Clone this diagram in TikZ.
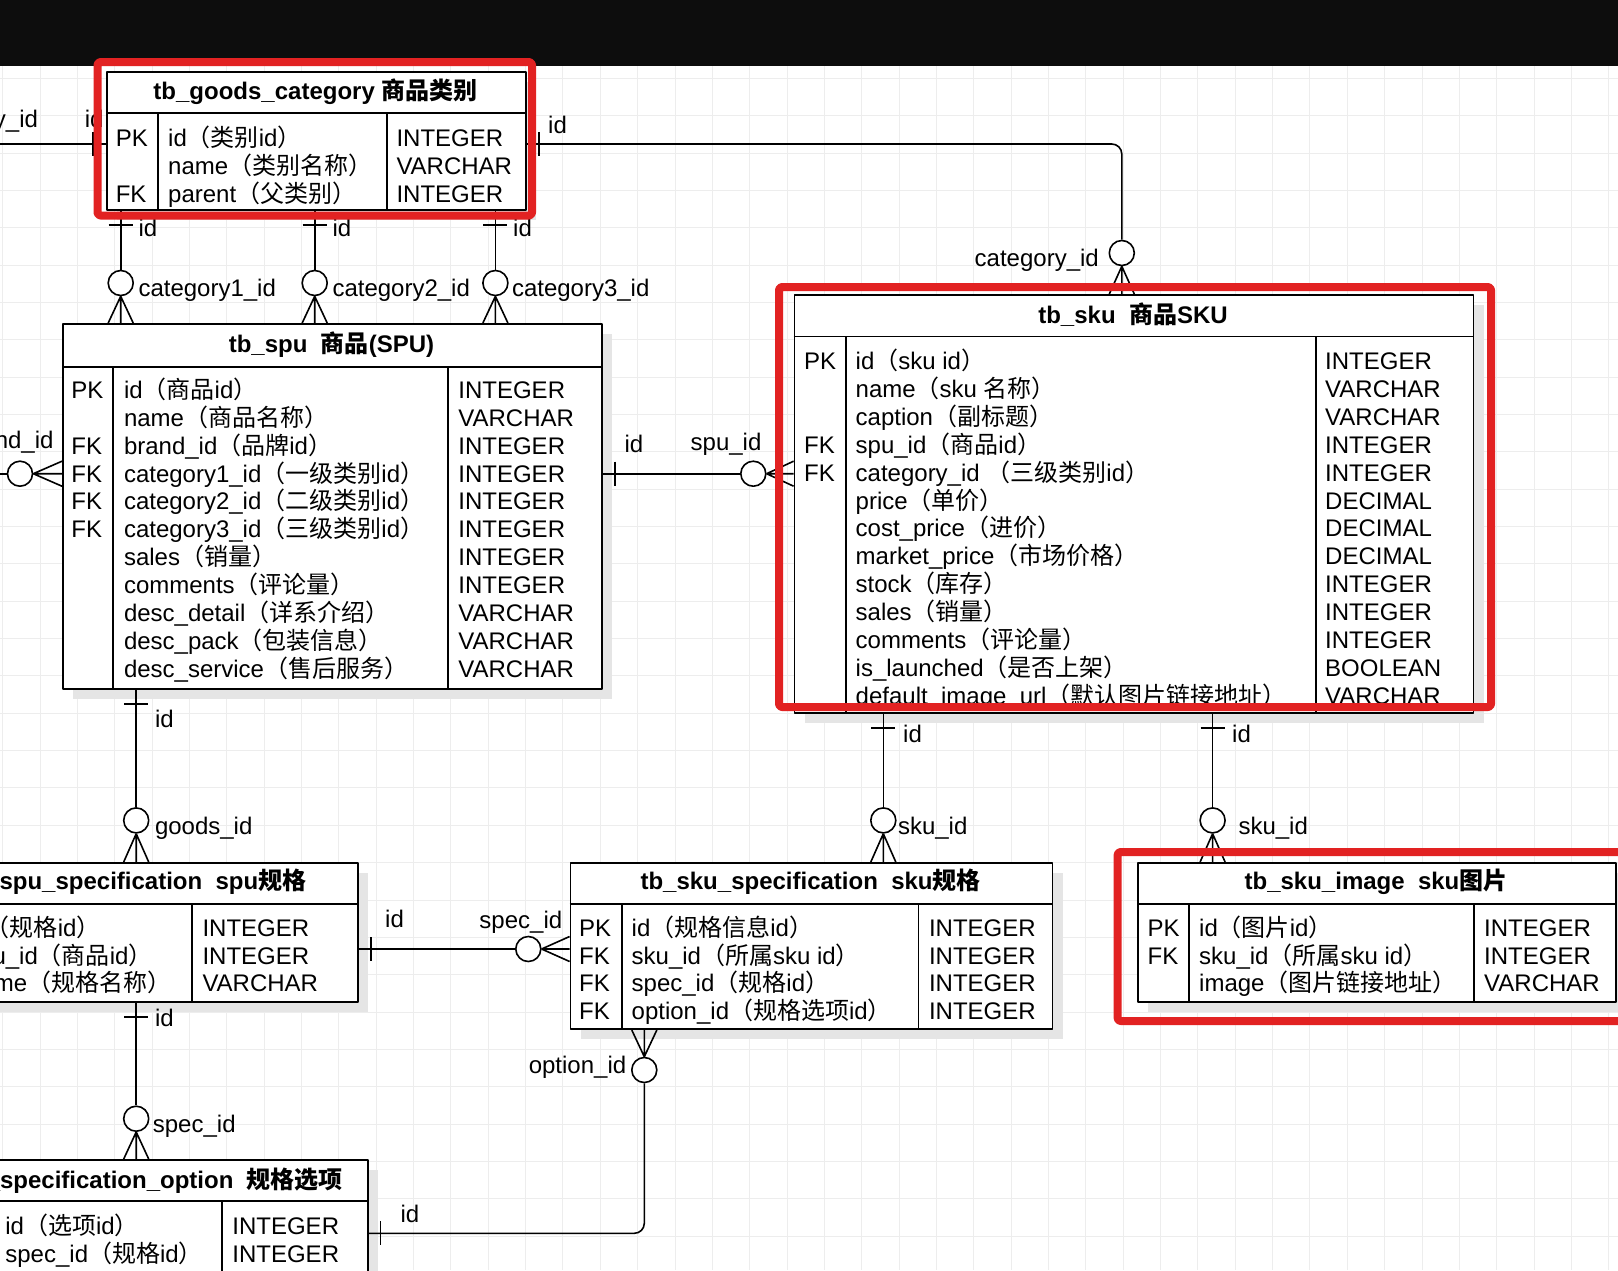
\documentclass[tikz,border=0pt]{standalone}
\usepackage{fontspec}
\setmainfont{Liberation Sans}
\newfontfamily\cjkfont{Noto Sans CJK SC}
\usetikzlibrary{calc,shadows}

% switch to the CJK font for Chinese characters and full-width punctuation
\XeTeXinterchartokenstate=1
\newXeTeXintercharclass\cjkclass
\newcount\cjkn
\cjkn="3000 \loop\XeTeXcharclass\cjkn=\cjkclass \advance\cjkn by 1 \ifnum\cjkn<"3040 \repeat
\cjkn="4E00 \loop\XeTeXcharclass\cjkn=\cjkclass \advance\cjkn by 1 \ifnum\cjkn<"A000 \repeat
\cjkn="FF00 \loop\XeTeXcharclass\cjkn=\cjkclass \advance\cjkn by 1 \ifnum\cjkn<"FFF0 \repeat
\XeTeXinterchartoks 0 \cjkclass = {\cjkfont}
\XeTeXinterchartoks 4095 \cjkclass = {\cjkfont}
\XeTeXinterchartoks \cjkclass 0 = {\rmfamily}
\XeTeXinterchartoks \cjkclass 4095 = {\rmfamily}

\definecolor{hired}{RGB}{226,34,34}

\tikzset{
  tbl/.style={draw, line width=1.8pt, fill=white, anchor=north west, inner sep=0pt,
    drop shadow={shadow xshift=10pt, shadow yshift=-10pt, fill=black!10, opacity=1}},
  tline/.style={line width=1.8pt},
  cell/.style={anchor=base west, inner sep=0pt, font=\fontsize{24}{28}\selectfont},
  ttl/.style={anchor=base, inner sep=0pt, font=\fontsize{24}{28}\selectfont\bfseries},
  lbl/.style={anchor=base west, inner sep=0pt, font=\fontsize{24}{28}\selectfont},
  optc/.style={circle, draw, fill=white, line width=1.6pt, minimum size=25pt, inner sep=0pt},
  conn/.style={line width=1.6pt},
  hilite/.style={draw=hired, line width=8pt, rounded corners=3pt},
  gridline/.style={draw=black!7, line width=1pt}
}

% table #1 above, circle #2, table #3 below
\newcommand{\vlink}[3]{%
  \draw[conn] (#2 |- #1.south) -- (#2);
  \draw[conn] ($(#2 |- #1.south)+(-12,14)$) -- ++(24,0);
  \draw[conn] (#2.south) -- ($(#2 |- #3.north)+(-12.5,0)$)
              (#2.south) -- (#2 |- #3.north)
              (#2.south) -- ($(#2 |- #3.north)+(12.5,0)$);}
% table #1 on the left, circle #2, table #3 on the right
\newcommand{\hlink}[3]{%
  \draw[conn] (#1.east |- #2) -- (#2);
  \draw[conn] ($(#1.east |- #2)+(12,-12)$) -- ++(0,24);
  \draw[conn] (#2.east) -- ($(#2 -| #3.west)+(0,-12.5)$)
              (#2.east) -- (#2 -| #3.west)
              (#2.east) -- ($(#2 -| #3.west)+(0,12.5)$);}

\begin{document}
\begin{tikzpicture}[x=1pt, y=-1pt, line join=round]
\useasboundingbox (0,0) rectangle (1618,1270);
\clip (0,0) rectangle (1618,1270);
\fill[white] (0,0) rectangle (1618,1270);
\foreach \i in {0,...,43} \draw[gridline] (2.7+37.35*\i,0) -- ++(0,1270);
\foreach \i in {0,...,33} \draw[gridline] (0,3.6+37.35*\i) -- ++(1618,0);
\fill[black!95] (0,0) rectangle (1618,66);

% tb_goods_category
\node[tbl, minimum width=419pt, minimum height=138pt] (gc) at (106,71) {};
\draw[tline] (106,113) -- (525,113) (158,113) -- (158,209) (387,113) -- (387,209);
\node[ttl] (gc-title) at (315.5,99.3) {tb\_goods\_category 商品类别};
\foreach \k/\f/\t [count=\i from 0] in {PK/id（类别id）/INTEGER, /name（类别名称）/VARCHAR,
    FK/parent（父类别）/INTEGER} {
  \node[cell] (gc-k\i) at (115.6,146.5+27.86*\i) {\k};
  \node[cell] (gc-f\i) at (168,146.5+27.86*\i) {\f};
  \node[cell] (gc-t\i) at (396.3,146.5+27.86*\i) {\t};
}

% tb_spu
\node[tbl, minimum width=539pt, minimum height=365pt] (spu) at (62,323) {};
\draw[tline] (62,367) -- (601,367) (113,367) -- (113,688) (448,367) -- (448,688);
\node[ttl] (spu-title) at (331.5,352) {tb\_spu\ \ 商品(SPU)};
\foreach \k/\f/\t [count=\i from 0] in {PK/id（商品id）/INTEGER, /name（商品名称）/VARCHAR,
    FK/brand\_id（品牌id）/INTEGER, FK/category1\_id（一级类别id）/INTEGER,
    FK/category2\_id（二级类别id）/INTEGER, FK/category3\_id（三级类别id）/INTEGER,
    /sales（销量）/INTEGER, /comments（评论量）/INTEGER, /desc\_detail（详系介绍）/VARCHAR,
    /desc\_pack（包装信息）/VARCHAR, /desc\_service（售后服务）/VARCHAR} {
  \node[cell] (spu-k\i) at (71.2,398.5+27.86*\i) {\k};
  \node[cell] (spu-f\i) at (123.8,398.5+27.86*\i) {\f};
  \node[cell] (spu-t\i) at (458.2,398.5+27.86*\i) {\t};
}

% tb_sku
\node[tbl, minimum width=679pt, minimum height=418pt] (sku) at (793.6,294) {};
\draw[tline] (793.6,336.4) -- (1472.6,336.4) (846,336.4) -- (846,712) (1316,336.4) -- (1316,712);
\node[ttl] (sku-title) at (1133,323.2) {tb\_sku\ \ 商品SKU};
\foreach \k/\f/\t [count=\i from 0] in {PK/id（sku id）/INTEGER, /name（sku 名称）/VARCHAR,
    /caption（副标题）/VARCHAR, FK/spu\_id（商品id）/INTEGER,
    FK/category\_id （三级类别id）/INTEGER, /price（单价）/DECIMAL,
    /cost\_price（进价）/DECIMAL, /market\_price（市场价格）/DECIMAL,
    /stock（库存）/INTEGER, /sales（销量）/INTEGER, /comments（评论量）/INTEGER,
    /is\_launched（是否上架）/BOOLEAN, /default\_image\_url（默认图片链接地址）/VARCHAR} {
  \node[cell] (sku-k\i) at (804,369.7+27.86*\i) {\k};
  \node[cell] (sku-f\i) at (855.5,369.7+27.86*\i) {\f};
  \node[cell] (sku-t\i) at (1325,369.7+27.86*\i) {\t};
}

% tb_spu_specification (runs off the left edge)
\node[tbl, minimum width=557pt, minimum height=139pt] (spus) at (-200,862) {};
\draw[tline] (-200,904) -- (357,904) (192,904) -- (192,1001);
\node[ttl, anchor=base east] (spus-title) at (306.5,889.8) {tb\_spu\_specification\ \ spu规格};
\foreach \f/\t [count=\i from 0] in {id（规格id）/INTEGER, spu\_id（商品id）/INTEGER,
    name（规格名称）/VARCHAR} {
  \node[cell] (spus-f\i) at (-33,936.2+27.86*\i) {\f};
  \node[cell] (spus-t\i) at (202.3,936.2+27.86*\i) {\t};
}

% tb_specification_option (runs off the left and bottom edges)
\node[tbl, minimum width=566.7pt, minimum height=160pt] (sopt) at (-200,1159) {};
\draw[tline] (-200,1201) -- (366.7,1201) (222,1201) -- (222,1319);
\node[ttl, anchor=base east] (sopt-title) at (343,1188) {tb\_specification\_option\ \ 规格选项};
\foreach \f/\t [count=\i from 0] in {id（选项id）/INTEGER, spec\_id（规格id）/INTEGER} {
  \node[cell] (sopt-f\i) at (5.2,1234.5+27.86*\i) {\f};
  \node[cell] (sopt-t\i) at (232.2,1234.5+27.86*\i) {\t};
}

% tb_sku_specification
\node[tbl, minimum width=482pt, minimum height=166.3pt] (skus) at (569.6,862) {};
\draw[tline] (569.6,904) -- (1051.6,904) (621.7,904) -- (621.7,1028.3) (918.5,904) -- (918.5,1028.3);
\node[ttl] (skus-title) at (810.6,889.8) {tb\_sku\_specification\ \ sku规格};
\foreach \k/\f/\t [count=\i from 0] in {PK/id（规格信息id）/INTEGER, FK/sku\_id（所属sku id）/INTEGER,
    FK/spec\_id（规格id）/INTEGER, FK/option\_id（规格选项id）/INTEGER} {
  \node[cell] (skus-k\i) at (579,936.2+27.86*\i) {\k};
  \node[cell] (skus-f\i) at (631.5,936.2+27.86*\i) {\f};
  \node[cell] (skus-t\i) at (928.8,936.2+27.86*\i) {\t};
}

% tb_sku_image
\node[tbl, minimum width=478pt, minimum height=139pt] (skui) at (1137,862) {};
\draw[tline] (1137,904) -- (1615,904) (1189,904) -- (1189,1001) (1473.6,904) -- (1473.6,1001);
\node[ttl] (skui-title) at (1376,889.8) {tb\_sku\_image\ \ sku图片};
\foreach \k/\f/\t [count=\i from 0] in {PK/id（图片id）/INTEGER, FK/sku\_id（所属sku id）/INTEGER,
    /image（图片链接地址）/VARCHAR} {
  \node[cell] (skui-k\i) at (1147.5,936.2+27.86*\i) {\k};
  \node[cell] (skui-f\i) at (1199,936.2+27.86*\i) {\f};
  \node[cell] (skui-t\i) at (1484,936.2+27.86*\i) {\t};
}

% optional ends
\node[optc] (cat1) at (120.7,283) {};
\node[optc] (cat2) at (314.7,283) {};
\node[optc] (cat3) at (495.4,283) {};
\node[optc] (catS) at (1121.8,253) {};
\node[optc] (brandC) at (20,473.7) {};
\node[optc] (spuC) at (753.3,473.7) {};
\node[optc] (goodsC) at (136.2,820.4) {};
\node[optc] (skuC1) at (883.3,820.4) {};
\node[optc] (skuC2) at (1212.6,820.4) {};
\node[optc] (specC1) at (528.3,949) {};
\node[optc] (specC2) at (136.2,1118.7) {};
\node[optc] (optC) at (644.3,1070) {};

% relations
\vlink{gc}{cat1}{spu}
\vlink{gc}{cat2}{spu}
\vlink{gc}{cat3}{spu}
\vlink{spu}{goodsC}{spus}
\vlink{sku}{skuC1}{skus}
\vlink{sku}{skuC2}{skui}
\vlink{spus}{specC2}{sopt}
\hlink{spu}{spuC}{sku}
\hlink{spus}{specC1}{skus}

\coordinate (rowL) at (0,144);
\draw[conn] (rowL) -- (gc.west |- rowL);
\draw[conn] ($(gc.west |- rowL)+(-13,-12)$) -- ++(0,24);
\draw[conn, rounded corners=10pt] (gc.east |- rowL) -- (catS |- rowL) -- (catS);
\draw[conn] ($(gc.east |- rowL)+(12,-12)$) -- ++(0,24);
\draw[conn] (catS.south) -- ($(catS |- sku.north)+(-12.5,0)$)
            (catS.south) -- (catS |- sku.north)
            (catS.south) -- ($(catS |- sku.north)+(12.5,0)$);

\coordinate (rowB) at (0,473.7);
\draw[conn] (rowB) -- (brandC);
\draw[conn] (brandC.east) -- ($(brandC -| spu.west)+(0,-12.5)$)
            (brandC.east) -- (brandC -| spu.west)
            (brandC.east) -- ($(brandC -| spu.west)+(0,12.5)$);

\coordinate (rowO) at (0,1233.3);
\draw[conn, rounded corners=10pt] (sopt.east |- rowO) -- (optC |- rowO) -- (optC);
\draw[conn] ($(sopt.east |- rowO)+(12,-12)$) -- ++(0,24);
\draw[conn] (optC.north) -- ($(optC |- skus.south)+(-12.5,0)$)
            (optC.north) -- (optC |- skus.south)
            (optC.north) -- ($(optC |- skus.south)+(12.5,0)$);

% labels
\node[lbl, anchor=base east] (l-catL) at (38.2,127.7) {category\_id};
\node[lbl] (l-idL) at (84.6,127.7) {id};
\node[lbl] (l-id1) at (138.3,236) {id};
\node[lbl] (l-id2) at (332.3,236) {id};
\node[lbl] (l-id3) at (513,236) {id};
\node[lbl] (l-cat1) at (138.3,296) {category1\_id};
\node[lbl] (l-cat2) at (332.3,296) {category2\_id};
\node[lbl] (l-cat3) at (511.8,296) {category3\_id};
\node[lbl] (l-idR) at (548,133) {id};
\node[lbl, anchor=base east] (l-catS) at (1099,266) {category\_id};
\node[lbl, anchor=base east] (l-brand) at (53.7,448.6) {brand\_id};
\node[lbl] (l-idspu) at (624.3,452.8) {id};
\node[lbl, anchor=base east] (l-spu) at (761.6,450.7) {spu\_id};
\node[lbl] (l-idgoods) at (154.8,727) {id};
\node[lbl] (l-goods) at (154.8,834) {goods\_id};
\node[lbl] (l-idsku1) at (903,742.8) {id};
\node[lbl] (l-sku1) at (897.8,834.6) {sku\_id};
\node[lbl] (l-idsku2) at (1232,742.8) {id};
\node[lbl] (l-sku2) at (1238.3,834.6) {sku\_id};
\node[lbl] (l-idspec1) at (385,927.5) {id};
\node[lbl, anchor=base east] (l-spec1) at (562.4,928.5) {spec\_id};
\node[lbl] (l-idspec2) at (154.8,1026.6) {id};
\node[lbl] (l-spec2) at (152.7,1132.8) {spec\_id};
\node[lbl] (l-idopt) at (400.4,1222.6) {id};
\node[lbl, anchor=base east] (l-opt) at (626.4,1073) {option\_id};

% red highlight frames
\draw[hilite] (97.5,62) rectangle (532,215.5);
\draw[hilite] (779,287) rectangle (1491,707);
\draw[hilite] (1117.6,852) rectangle (1660,1021);
\end{tikzpicture}
\end{document}
